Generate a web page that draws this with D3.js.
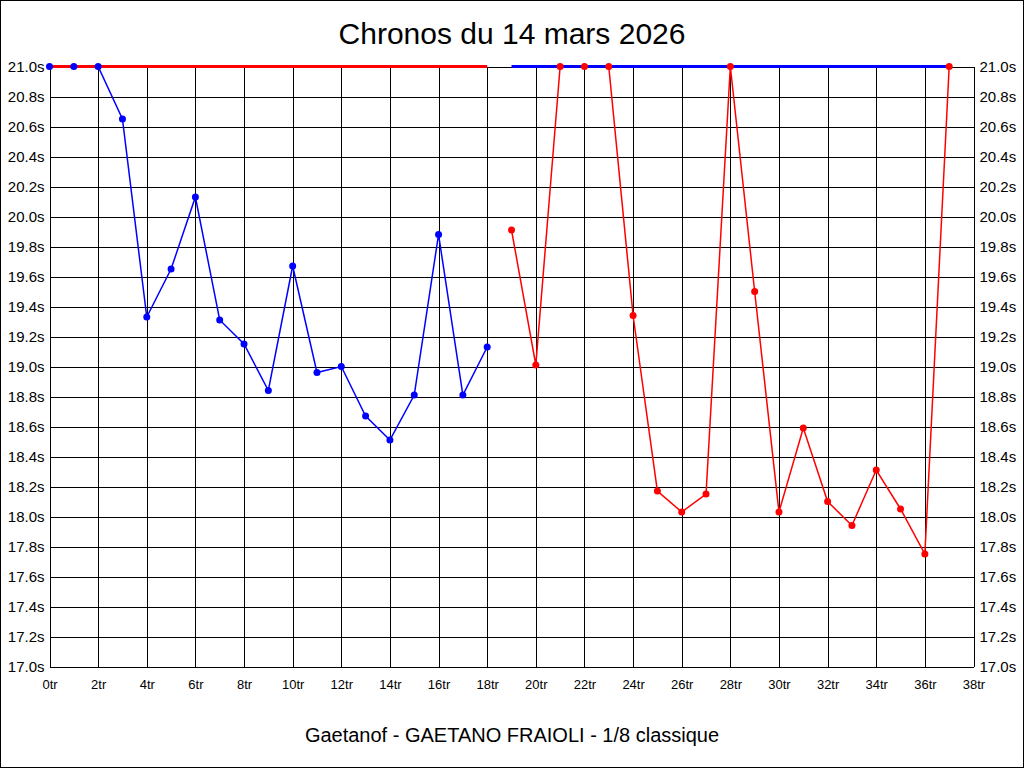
<!DOCTYPE html>
<html><head><meta charset="utf-8">
<script src="https://cdn.jsdelivr.net/npm/d3@7"></script>
<style>
html,body{margin:0;padding:0;background:#fff;}
svg{display:block;font-family:"Liberation Sans",Arial,sans-serif;}
</style></head>
<body>
<script>
const titleText = "Chronos du 14 mars 2026";
const subtitleText = "Gaetanof - GAETANO FRAIOLI - 1/8 classique";
const blueLaps = [0,1,2,3,4,5,6,7,8,9,10,11,12,13,14,15,16,17,18];
const blueTimes = [21.0,21.0,21.0,20.65,19.33,19.65,20.13,19.31,19.15,18.84,19.67,18.96,19.00,18.67,18.51,18.81,19.88,18.81,19.13];
const redLaps = [19,20,21,22,23,24,25,26,27,28,29,30,31,32,33,34,35,36,37];
const redTimes = [19.91,19.01,21.0,21.0,21.0,19.34,18.17,18.03,18.15,21.0,19.50,18.03,18.59,18.10,17.94,18.31,18.05,17.75,21.0];
const redBand = [0,18];   // thick red line at the top
const blueBand = [19,37]; // thick blue line at the top
const bandValue = 21.0;
const xTicks = [0,2,4,6,8,10,12,14,16,18,20,22,24,26,28,30,32,34,36,38];
const yTicks = [17.0,17.2,17.4,17.6,17.8,18.0,18.2,18.4,18.6,18.8,19.0,19.2,19.4,19.6,19.8,20.0,20.2,20.4,20.6,20.8,21.0];

const W = 1024, H = 768;
const L = 49, R = 973, T = 66, B = 666;
const svg = d3.select("body").append("svg").attr("width", W).attr("height", H);
svg.append("rect").attr("x",0.5).attr("y",0.5).attr("width",W-1).attr("height",H-1)
  .attr("fill","#fff").attr("stroke","#000");

const x = d3.scaleLinear().domain([0,38]).range([L,R]);
const y = d3.scaleLinear().domain([17,21]).range([B,T]);

const g = svg.append("g").attr("transform","translate(0.5,0.5)");
const FF = "'Liberation Sans',Arial,sans-serif";

// left axis with grid
const ya = g.append("g").attr("transform",`translate(${L},0)`)
  .call(d3.axisLeft(y).tickValues(yTicks).tickFormat(d=>d.toFixed(1)+"s").tickSizeInner(-(R-L)).tickSizeOuter(0).tickPadding(5));
ya.selectAll("line").attr("stroke","#000").attr("shape-rendering","crispEdges");
ya.select(".domain").attr("stroke","#000").attr("shape-rendering","crispEdges");
ya.selectAll("text").attr("font-size",15).attr("fill","#000").attr("font-family",FF);

const yr = g.append("g").attr("transform",`translate(${R},0)`)
  .call(d3.axisRight(y).tickValues(yTicks).tickFormat(d=>d.toFixed(1)+"s").tickSize(0).tickPadding(6));
yr.select(".domain").attr("stroke","#000").attr("shape-rendering","crispEdges");
yr.selectAll("text").attr("font-size",15).attr("fill","#000").attr("font-family",FF);

const xa = g.append("g").attr("transform",`translate(0,${B})`)
  .call(d3.axisBottom(x).tickValues(xTicks).tickFormat(d=>d+"tr").tickSizeInner(-(B-T)).tickSizeOuter(0).tickPadding(13));
xa.selectAll("line").attr("stroke","#000").attr("shape-rendering","crispEdges");
xa.select(".domain").attr("stroke","#000").attr("shape-rendering","crispEdges");
xa.selectAll("text").attr("font-size",13).attr("fill","#000").attr("font-family",FF);

const line = d3.line().x(d=>x(d[0])).y(d=>y(d[1]));
const blueAll = blueLaps.map((l,i)=>[l,blueTimes[i]]);
const redAll = redLaps.map((l,i)=>[l,redTimes[i]]);

// series lines
g.append("path").datum(blueAll).attr("d",line).attr("fill","none").attr("stroke","#0000ff").attr("stroke-width",1.5);
g.append("path").datum(redAll).attr("d",line).attr("fill","none").attr("stroke","#ff0000").attr("stroke-width",1.5);

// thick top bands
g.append("line").attr("x1",x(redBand[0])).attr("x2",x(redBand[1])).attr("y1",y(bandValue)).attr("y2",y(bandValue))
  .attr("stroke","#ff0000").attr("stroke-width",3);
g.append("line").attr("x1",x(blueBand[0])).attr("x2",x(blueBand[1])).attr("y1",y(bandValue)).attr("y2",y(bandValue))
  .attr("stroke","#0000ff").attr("stroke-width",3);

// dots
function dots(pts,color){
  g.selectAll(null).data(pts).enter().append("circle")
    .attr("cx",d=>x(d[0])).attr("cy",d=>y(d[1])).attr("r",3.5).attr("fill",color);
}
dots(blueAll,"#0000ff");
dots(redAll,"#ff0000");

svg.append("text").attr("x",512).attr("y",44).attr("text-anchor","middle")
  .attr("font-size",30).attr("fill","#000").attr("font-family",FF).text(titleText);
svg.append("text").attr("x",512).attr("y",742).attr("text-anchor","middle")
  .attr("font-size",20).attr("fill","#000").attr("font-family",FF).text(subtitleText);
</script>
</body></html>
